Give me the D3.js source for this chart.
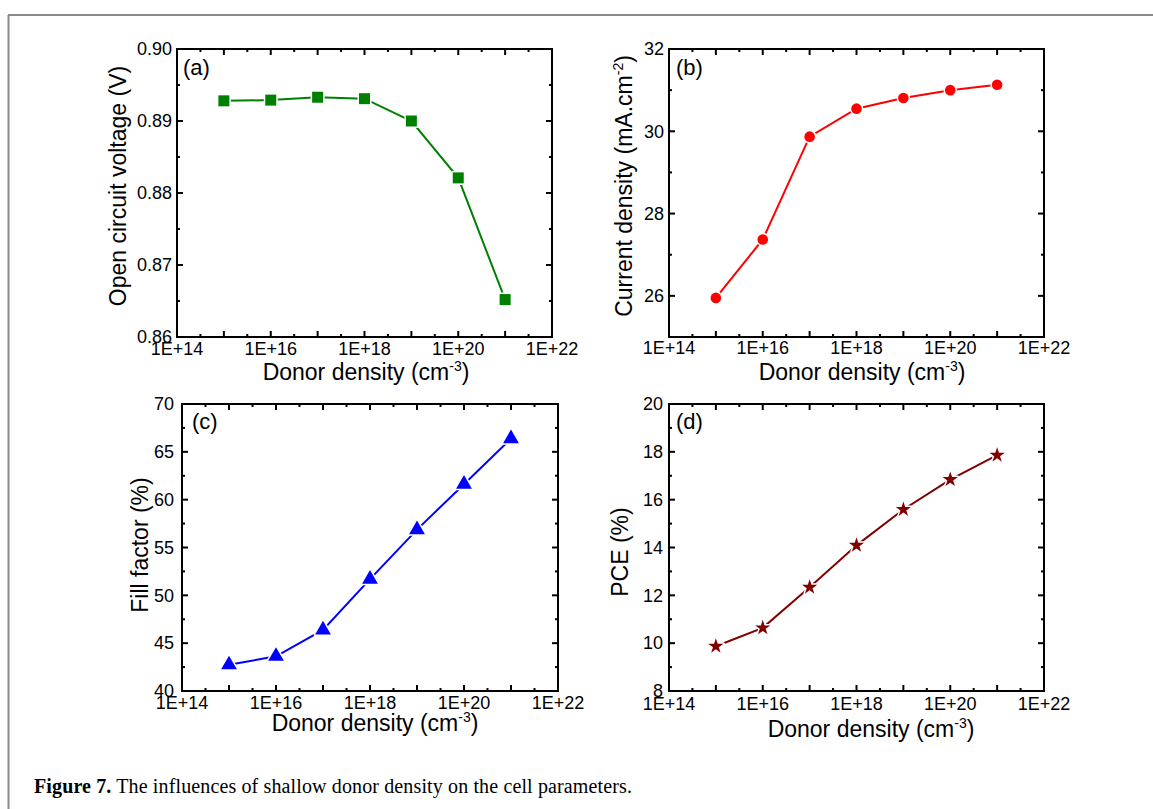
<!DOCTYPE html>
<html>
<head>
<meta charset="utf-8">
<script src="https://cdn.jsdelivr.net/npm/d3@7"></script>
<style>
  html, body { margin: 0; padding: 0; background: #fff; }
  svg { display: block; }
  text { font-family: "Liberation Sans", Arial, sans-serif; fill: #000; }
  .caption { font-family: "Liberation Serif", "Times New Roman", serif; }
</style>
</head>
<body>
<svg id="fig" width="1153" height="809"></svg>
<script>
// Shallow donor density (cm^-3) for each simulated cell
const density = [1e15, 1e16, 1e17, 1e18, 1e19, 1e20, 1e21];

// Cell parameters at each donor density
const vocValues = [0.8928, 0.8929, 0.8933, 0.8931, 0.8900, 0.8821, 0.8652];
const jscValues = [25.95, 27.37, 29.87, 30.55, 30.81, 31.00, 31.13];
const ffValues  = [42.74, 43.63, 46.39, 51.70, 56.87, 61.62, 66.37];
const pceValues = [9.87, 10.64, 12.34, 14.09, 15.59, 16.84, 17.86];

// Axis ticks
const xTickValues = [1e14, 1e16, 1e18, 1e20, 1e22];
const xTickLabels = ["1E+14", "1E+16", "1E+18", "1E+20", "1E+22"];
const vocTicks = [0.86, 0.87, 0.88, 0.89, 0.90];
const vocTickLabels = ["0.86", "0.87", "0.88", "0.89", "0.90"];
const jscTicks = [26, 28, 30, 32];
const jscTickLabels = ["26", "28", "30", "32"];
const ffTicks = [40, 45, 50, 55, 60, 65, 70];
const ffTickLabels = ["40", "45", "50", "55", "60", "65", "70"];
const pceTicks = [8, 10, 12, 14, 16, 18, 20];
const pceTickLabels = ["8", "10", "12", "14", "16", "18", "20"];

const svg = d3.select("#fig");

// page frame lines
svg.append("line").attr("x1", 8).attr("x2", 1153).attr("y1", 15).attr("y2", 15)
  .attr("stroke", "#8a8a8a").attr("stroke-width", 2);
svg.append("line").attr("x1", 8.5).attr("x2", 8.5).attr("y1", 15).attr("y2", 809)
  .attr("stroke", "#8a8a8a").attr("stroke-width", 2);

const panels = [
  { tag: "(a)", values: vocValues, color: "#008000", symbol: d3.symbolSquare, size: 121,
    box: { x0: 177, x1: 552, y0: 49, y1: 337 }, yDomain: [0.86, 0.90], yTicks: vocTicks, yLabels: vocTickLabels,
    yMinorStep: 0.005, yTitle: [{ t: "Open circuit voltage (V)" }], yTitleX: 126, yTitleY: 186,
    yLabelGap: 5, xTitleX: 366, xTitleY: 380, tickLabelY: 355, tagX: 183, tagY: 75 },
  { tag: "(b)", values: jscValues, color: "#ff0000", symbol: d3.symbolCircle, size: 88,
    box: { x0: 669, x1: 1044, y0: 49, y1: 337 }, yDomain: [25, 32], yTicks: jscTicks, yLabels: jscTickLabels,
    yMinorStep: 1, yTitle: [{ t: "Current density (mA.cm" }, { t: "-2", sup: true }, { t: ")" }], yTitleX: 632, yTitleY: 186,
    yLabelGap: 5, xTitleX: 862, xTitleY: 380, tickLabelY: 354, tagX: 676, tagY: 75 },
  { tag: "(c)", values: ffValues, color: "#0000ff", symbol: d3.symbolTriangle, size: 108,
    box: { x0: 182, x1: 558, y0: 404, y1: 691 }, yDomain: [40, 70], yTicks: ffTicks, yLabels: ffTickLabels,
    yMinorStep: 2.5, yTitle: [{ t: "Fill factor (%)" }], yTitleX: 148, yTitleY: 545,
    yLabelGap: 8, xTitleX: 375, xTitleY: 731, tickLabelY: 709, tagX: 192, tagY: 429 },
  { tag: "(d)", values: pceValues, color: "#800000", symbol: d3.symbolStar, size: 72,
    box: { x0: 669, x1: 1044, y0: 404, y1: 691 }, yDomain: [8, 20], yTicks: pceTicks, yLabels: pceTickLabels,
    yMinorStep: 1, yTitle: [{ t: "PCE (%)" }], yTitleX: 628, yTitleY: 552,
    yLabelGap: 6, xTitleX: 871, xTitleY: 737, tickLabelY: 710, tagX: 676, tagY: 429 }
];

const tickFont = 18, titleFont = 23, supFont = 14;

// major x ticks at every decade, minor ones at half decades
const xMajor = d3.range(14, 23).map(e => Math.pow(10, e));
const xMinor = d3.range(14.5, 22, 1).map(e => Math.pow(10, e));

panels.forEach(p => {
  const b = p.box;
  const x = d3.scaleLog().domain([1e14, 1e22]).range([b.x0, b.x1]);
  const y = d3.scaleLinear().domain(p.yDomain).range([b.y1, b.y0]);
  const g = svg.append("g");

  // inward ticks on all four sides
  const ticks = g.append("g").attr("stroke", "#000").attr("stroke-width", 2);
  const addX = (vals, len) => vals.forEach(v => {
    const xx = x(v);
    ticks.append("line").attr("x1", xx).attr("x2", xx).attr("y1", b.y1).attr("y2", b.y1 - len);
    ticks.append("line").attr("x1", xx).attr("x2", xx).attr("y1", b.y0).attr("y2", b.y0 + len);
  });
  addX(xMajor, 6);
  addX(xMinor, 3);
  const yMinorVals = d3.range(p.yDomain[0], p.yDomain[1] + 1e-9, p.yMinorStep)
    .filter(v => !p.yTicks.some(t => Math.abs(t - v) < 1e-9));
  const addY = (vals, len) => vals.forEach(v => {
    const yy = y(v);
    ticks.append("line").attr("x1", b.x0).attr("x2", b.x0 + len).attr("y1", yy).attr("y2", yy);
    ticks.append("line").attr("x1", b.x1).attr("x2", b.x1 - len).attr("y1", yy).attr("y2", yy);
  });
  addY(p.yTicks, 6);
  addY(yMinorVals, 3);

  // frame
  g.append("rect").attr("x", b.x0).attr("y", b.y0)
    .attr("width", b.x1 - b.x0).attr("height", b.y1 - b.y0)
    .attr("fill", "none").attr("stroke", "#000").attr("stroke-width", 2);

  // tick labels
  g.selectAll(".xl").data(xTickValues).enter().append("text")
    .attr("x", d => x(d)).attr("y", p.tickLabelY)
    .attr("text-anchor", "middle").attr("font-size", tickFont)
    .text((d, i) => xTickLabels[i]);
  g.selectAll(".yl").data(p.yTicks).enter().append("text")
    .attr("x", b.x0 - p.yLabelGap).attr("y", d => y(d))
    .attr("dy", "0.35em").attr("text-anchor", "end").attr("font-size", tickFont)
    .text((d, i) => p.yLabels[i]);

  // x title with superscript
  const xt = g.append("text").attr("x", p.xTitleX).attr("y", p.xTitleY)
    .attr("text-anchor", "middle").attr("font-size", titleFont);
  xt.append("tspan").text("Donor density (cm");
  xt.append("tspan").attr("font-size", supFont).attr("dy", -9).text("-3");
  xt.append("tspan").attr("dy", 9).text(")");

  // y title
  const yt = g.append("text")
    .attr("transform", `translate(${p.yTitleX},${p.yTitleY}) rotate(-90)`)
    .attr("text-anchor", "middle").attr("font-size", titleFont);
  p.yTitle.forEach((part, i) => {
    const s = yt.append("tspan").text(part.t);
    if (part.sup) s.attr("font-size", supFont).attr("dy", -9);
    else if (i > 0 && p.yTitle[i - 1].sup) s.attr("dy", 9);
  });

  // panel tag
  g.append("text").attr("x", p.tagX).attr("y", p.tagY).attr("font-size", 22).text(p.tag);

  // series line and markers (white halo painted under each symbol)
  const pts = density.map((d, i) => [d, p.values[i]]);
  g.append("path").datum(pts)
    .attr("fill", "none").attr("stroke", p.color).attr("stroke-width", 2)
    .attr("d", d3.line().x(d => x(d[0])).y(d => y(d[1])));
  g.selectAll(".m").data(pts).enter().append("path")
    .attr("transform", d => `translate(${x(d[0])},${y(d[1])})`)
    .attr("d", d3.symbol().type(p.symbol).size(p.size))
    .attr("fill", p.color).attr("stroke", "#fff").attr("stroke-width", 3)
    .attr("stroke-linejoin", "round").attr("paint-order", "stroke");
});

// caption
const cap = svg.append("text").attr("class", "caption").attr("x", 34).attr("y", 793)
  .attr("font-size", 20).attr("textLength", 598).attr("lengthAdjust", "spacing");
cap.append("tspan").attr("font-weight", "bold").text("Figure 7.");
cap.append("tspan").text(" The influences of shallow donor density on the cell parameters.");
</script>
</body>
</html>
